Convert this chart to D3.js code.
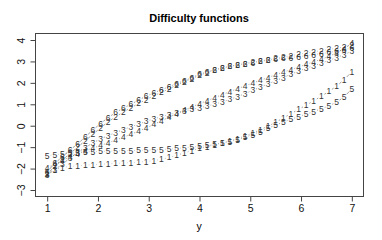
<!DOCTYPE html>
<html>
<head>
<meta charset="utf-8">
<script src="https://cdn.jsdelivr.net/npm/d3@7"></script>
<style>
  body { margin: 0; background: #fff; }
  text { font-family: "Liberation Sans", Arial, sans-serif; }
</style>
</head>
<body>
<svg id="chart"></svg>
<script>
const width = 382;
const height = 240;

// y grid (x axis) values
const yGrid = [1.00, 1.15, 1.30, 1.45, 1.60, 1.75, 1.90, 2.05, 2.20, 2.35,
  2.50, 2.65, 2.80, 2.95, 3.10, 3.25, 3.40, 3.55, 3.70, 3.85,
  4.00, 4.15, 4.30, 4.45, 4.60, 4.75, 4.90, 5.05, 5.20, 5.35,
  5.50, 5.65, 5.80, 5.95, 6.10, 6.25, 6.40, 6.55, 6.70, 6.85, 7.00];

const series1 = [-2.2, -2.05, -1.95, -1.9, -1.87, -1.84, -1.82, -1.8, -1.78, -1.76,
  -1.74, -1.72, -1.7, -1.67, -1.63, -1.57, -1.48, -1.38, -1.27, -1.16,
  -1.06, -0.97, -0.88, -0.8, -0.71, -0.6, -0.48, -0.34, -0.18, -0.02,
  0.16, 0.36, 0.56, 0.76, 0.96, 1.16, 1.38, 1.6, 1.85, 2.15, 2.52];
const series2 = [-2.25, -1.9, -1.6, -1.3, -1.0, -0.7, -0.4, -0.1, 0.18, 0.42,
  0.64, 0.84, 1.04, 1.22, 1.4, 1.56, 1.72, 1.9, 2.05, 2.2,
  2.35, 2.48, 2.6, 2.69, 2.77, 2.84, 2.9, 2.96, 3.02, 3.08,
  3.14, 3.2, 3.27, 3.33, 3.39, 3.45, 3.5, 3.56, 3.62, 3.68, 3.75];
const series3 = [-2.3, -2.05, -1.8, -1.5, -1.25, -1.02, -0.8, -0.62, -0.46, -0.32,
  -0.18, -0.05, 0.08, 0.2, 0.32, 0.42, 0.52, 0.6, 0.68, 0.76,
  0.84, 0.92, 1.01, 1.11, 1.23, 1.36, 1.5, 1.65, 1.8, 1.95,
  2.1, 2.25, 2.4, 2.55, 2.68, 2.8, 2.92, 3.05, 3.18, 3.32, 3.48];
const series4 = [-1.95, -1.8, -1.62, -1.45, -1.3, -1.17, -1.05, -0.92, -0.8, -0.67,
  -0.54, -0.4, -0.25, -0.1, 0.06, 0.23, 0.4, 0.56, 0.72, 0.88,
  1.03, 1.17, 1.31, 1.45, 1.59, 1.73, 1.86, 1.99, 2.12, 2.25,
  2.38, 2.5, 2.62, 2.74, 2.86, 2.98, 3.1, 3.24, 3.4, 3.6, 3.85];
const series5 = [-1.4, -1.35, -1.31, -1.28, -1.25, -1.23, -1.21, -1.2, -1.19, -1.18,
  -1.17, -1.16, -1.15, -1.14, -1.13, -1.11, -1.09, -1.06, -1.03, -1.0,
  -0.96, -0.92, -0.87, -0.81, -0.74, -0.65, -0.54, -0.41, -0.27, -0.12,
  0.03, 0.17, 0.3, 0.42, 0.54, 0.66, 0.79, 0.93, 1.1, 1.35, 1.72];
const series6 = [-2.15, -1.75, -1.45, -1.13, -0.85, -0.52, -0.2, 0.1, 0.38, 0.62,
  0.82, 1.0, 1.2, 1.38, 1.53, 1.68, 1.82, 1.97, 2.1, 2.25,
  2.4, 2.52, 2.62, 2.7, 2.77, 2.84, 2.9, 2.95, 3.0, 3.05,
  3.1, 3.14, 3.18, 3.22, 3.27, 3.32, 3.37, 3.42, 3.48, 3.55, 3.62];

const seriesLabels = ["1", "2", "3", "4", "5", "6"];
const allSeries = [series1, series2, series3, series4, series5, series6];
const xTicks = [1, 2, 3, 4, 5, 6, 7];
const yTicks = [-3, -2, -1, 0, 1, 2, 3, 4];

const svg = d3.select("#chart")
    .attr("width", width)
    .attr("height", height);

// R style: 4% padding around xlim / ylim
const x = d3.scaleLinear().domain([0.76, 7.24]).range([35, 364]);
const y = d3.scaleLinear().domain([-3.28, 4.28]).range([196, 34]);

// box
svg.append("rect")
    .attr("x", 35.5).attr("y", 33.5)
    .attr("width", 328).attr("height", 163)
    .attr("fill", "none")
    .attr("stroke", "#444")
    .attr("stroke-width", 1);

const fmt = d => (d < 0 ? "\u2212" + Math.abs(d) : String(d));

const xAxis = svg.append("g")
    .attr("transform", "translate(0,196.5)")
    .call(d3.axisBottom(x).tickValues(xTicks).tickSize(5).tickPadding(3).tickFormat(fmt));
xAxis.select(".domain").attr("d", `M${x(1)},0H${x(7)}`);

const yAxis = svg.append("g")
    .attr("transform", "translate(35.5,0)")
    .call(d3.axisLeft(y).tickValues(yTicks).tickSize(5).tickFormat(fmt));
yAxis.select(".domain").attr("d", `M0,${y(-3)}V${y(4)}`);
yAxis.selectAll(".tick text")
    .attr("x", 0).attr("dy", null)
    .attr("text-anchor", "middle")
    .attr("transform", "translate(-13,0) rotate(-90)")
    .attr("dominant-baseline", "middle");

svg.selectAll(".tick text").attr("font-size", 10.5).attr("fill", "#111")
    .style("font-family", "'Liberation Sans', Arial, sans-serif");
svg.selectAll(".tick line, .domain").attr("stroke", "#444");

// title and axis label
svg.append("text")
    .attr("x", 199).attr("y", 22)
    .attr("text-anchor", "middle")
    .attr("font-size", 11)
    .attr("font-weight", "bold")
    .text("Difficulty functions");

svg.append("text")
    .attr("x", 199).attr("y", 230)
    .attr("text-anchor", "middle")
    .attr("font-size", 10.5)
    .text("y");

// type = "b": short segments between points, digits as symbols
const gap = 3.6;
allSeries.forEach((vals, s) => {
    const g = svg.append("g");
    const pts = vals.map((v, i) => [x(yGrid[i]), y(v)]);
    for (let i = 0; i < pts.length - 1; i++) {
        const [x0, y0] = pts[i];
        const [x1, y1] = pts[i + 1];
        const len = Math.hypot(x1 - x0, y1 - y0);
        if (len <= 2 * gap) continue;
        const ux = (x1 - x0) / len, uy = (y1 - y0) / len;
        g.append("line")
            .attr("x1", x0 + ux * gap).attr("y1", y0 + uy * gap)
            .attr("x2", x1 - ux * gap).attr("y2", y1 - uy * gap)
            .attr("stroke", "#777")
            .attr("stroke-width", 0.7);
    }
    g.selectAll("text.pt")
        .data(pts)
        .enter()
        .append("text")
        .attr("class", "pt")
        .attr("x", d => d[0])
        .attr("y", d => d[1])
        .attr("text-anchor", "middle")
        .attr("dominant-baseline", "central")
        .attr("font-size", 8.5)
        .attr("fill", "#333")
        .text(seriesLabels[s]);
});
</script>
</body>
</html>
